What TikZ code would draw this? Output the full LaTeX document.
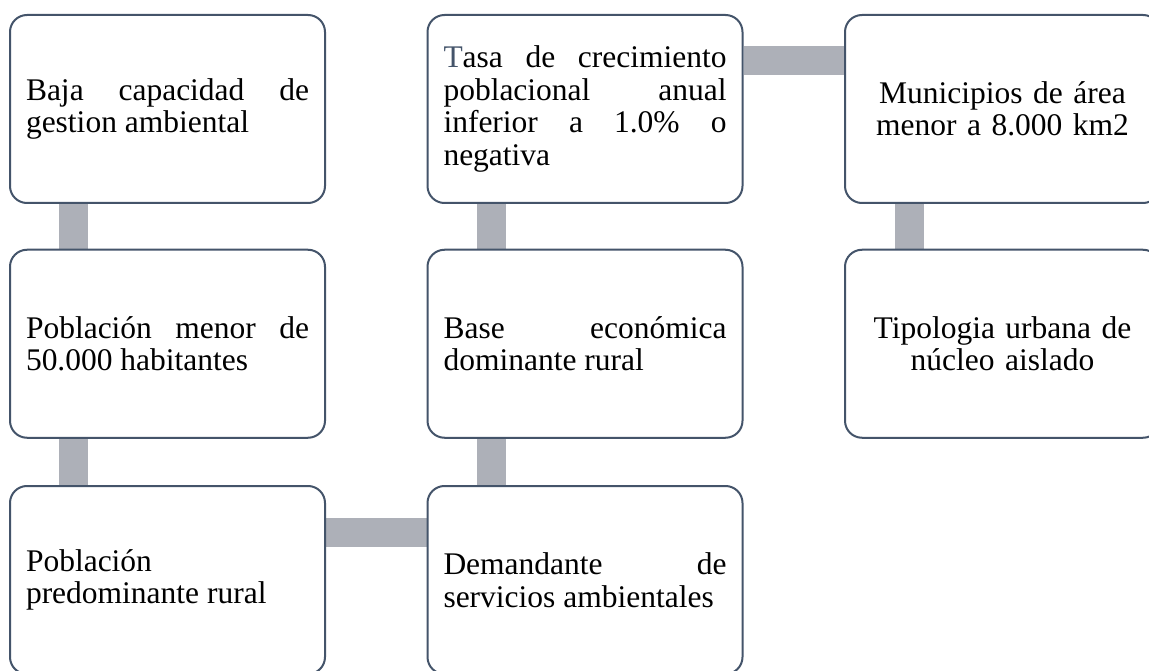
\documentclass[tikz,border=0pt]{standalone}
\usepackage{fontspec}
\setmainfont{Liberation Serif}
\usetikzlibrary{calc,backgrounds}
\definecolor{boxline}{HTML}{44546A}
\definecolor{connline}{HTML}{ADB0B8}
\definecolor{tcol}{HTML}{44546A}
\tikzset{
  stepbox/.style={draw=boxline, line width=2pt, rounded corners=17pt, fill=white,
    minimum width=315pt, minimum height=188pt, inner xsep=16pt, inner ysep=0pt,
    text width=283pt, font=\fontsize{31.5pt}{32.5pt}\selectfont},
  jbox/.style={stepbox, align=justify},
  cbox/.style={stepbox, align=center},
  conn/.style={draw=connline, line width=29pt}
}
\begin{document}
\begin{tikzpicture}[x=1pt,y=-1pt]
\clip (0,0) rectangle (1149,671);
\hyphenpenalty=10000
\node[jbox] (A) at (167.5,109) {Baja capacidad de\linebreak gestion ambiental};
\node[jbox] (B) at (167.5,343.75) {Población menor de\linebreak 50.000 habitantes};
\node[jbox] (C) at (167.5,580) {Población\\predominante rural};
\node[jbox] (D) at (585,580) {Demandante de\linebreak servicios ambientales};
\node[jbox] (E) at (585,343.75) {Base económica\linebreak dominante rural};
\node[jbox] (F) at (585,109) {{\color{tcol}T}asa de crecimiento\linebreak poblacional anual\linebreak inferior a 1.0\% o\linebreak negativa};
\node[cbox] (G) at (1002.5,109) {Municipios de área\\menor a 8.000 km2};
\node[cbox] (H) at (1002.5,343.75) {Tipologia urbana de\\núcleo aislado};
\begin{scope}[on background layer]
\fill[white] (0,0) rectangle (1149,671);
\draw[conn] ($(A.south west)+(64.5,0)$) -- ($(B.north west)+(64.5,0)$);
\draw[conn] ($(B.south west)+(64.5,0)$) -- ($(C.north west)+(64.5,0)$);
\draw[conn] ($(C.north east)+(0,47.5)$) -- ($(D.north west)+(0,47.5)$);
\draw[conn] ($(D.north west)+(64.5,0)$) -- ($(E.south west)+(64.5,0)$);
\draw[conn] ($(E.north west)+(64.5,0)$) -- ($(F.south west)+(64.5,0)$);
\draw[conn] ($(F.north east)+(0,46.5)$) -- ($(G.north west)+(0,46.5)$);
\draw[conn] ($(G.south west)+(65.5,0)$) -- ($(H.north west)+(65.5,0)$);
\end{scope}
\end{tikzpicture}
\end{document}
